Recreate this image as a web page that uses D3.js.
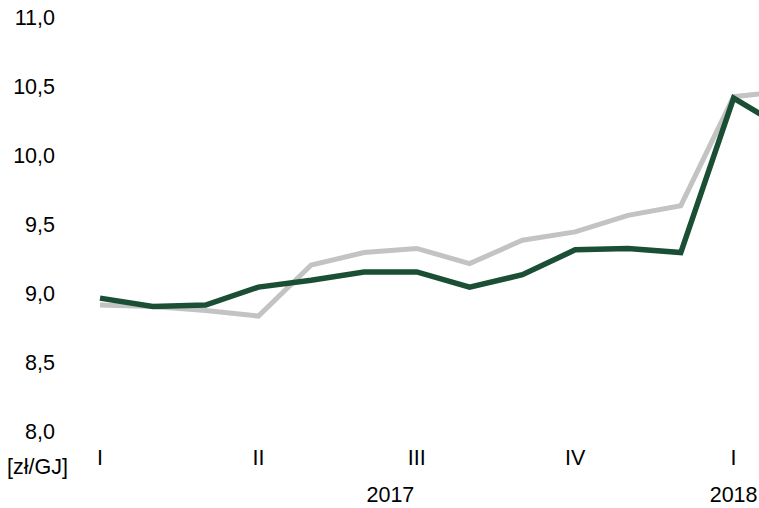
<!DOCTYPE html>
<html lang="pl">
<head>
    <meta charset="UTF-8">
    <script src="https://d3js.org/d3.v7.min.js"></script>
    <style>
        body { margin: 0; background: #fff; }
        text { font-family: "Liberation Sans", Arial, sans-serif; fill: #000; }
    </style>
</head>
<body>
    <script>
        // monthly values, Jan 2017 .. Feb 2018
        var greenVals = [8.97, 8.91, 8.92, 9.05, 9.10, 9.16, 9.16, 9.05, 9.14, 9.32, 9.33, 9.30, 10.42, 10.19];
        var grayVals  = [8.92, 8.91, 8.88, 8.84, 9.21, 9.30, 9.33, 9.22, 9.39, 9.45, 9.57, 9.64, 10.43, 10.47];
        var yTicks = [8.0, 8.5, 9.0, 9.5, 10.0, 10.5, 11.0];
        var quarterLabels = [{i: 0, t: "I"}, {i: 3, t: "II"}, {i: 6, t: "III"}, {i: 9, t: "IV"}, {i: 12, t: "I"}];
        var yearLabels = [{i: 5.5, t: "2017"}, {i: 12, t: "2018"}];
        var unitLabel = "[zł/GJ]";

        var svgwidth = 759, svgheight = 508;
        var fs = "21.5px";
        var svg = d3.select("body").append("svg")
            .attr("width", svgwidth)
            .attr("height", svgheight)
            .style("display", "block");

        var x = d3.scaleLinear().domain([0, 12]).range([100, 733.6]);
        var y = d3.scaleLinear().domain([8, 11]).range([432, 18]);

        // y axis labels only
        var yAxis = svg.append("g")
            .attr("transform", "translate(55,0)")
            .call(d3.axisLeft(y).tickValues(yTicks).tickSize(0).tickPadding(0)
                .tickFormat(d => d3.format(".1f")(d).replace(".", ",")));
        yAxis.select(".domain").remove();
        yAxis.selectAll("text").attr("font-size", fs).attr("font-family", "Liberation Sans, Arial, sans-serif").attr("fill", "#000");

        svg.append("text")
            .attr("x", 7).attr("y", 474)
            .attr("font-size", fs)
            .text(unitLabel);

        svg.selectAll(".q").data(quarterLabels).enter().append("text")
            .attr("class", "q")
            .attr("x", d => x(d.i)).attr("y", 465)
            .attr("text-anchor", "middle")
            .attr("font-size", fs)
            .text(d => d.t);

        svg.selectAll(".yr").data(yearLabels).enter().append("text")
            .attr("class", "yr")
            .attr("x", d => x(d.i)).attr("y", 502)
            .attr("text-anchor", "middle")
            .attr("font-size", fs)
            .text(d => d.t);

        var line = d3.line().x((d, i) => x(i)).y(d => y(d));

        svg.append("path").datum(grayVals)
            .attr("d", line)
            .attr("fill", "none")
            .attr("stroke", "#c3c3c3")
            .attr("stroke-width", 5)
            .attr("stroke-linejoin", "miter");

        svg.append("path").datum(greenVals)
            .attr("d", line)
            .attr("fill", "none")
            .attr("stroke", "#1b4f35")
            .attr("stroke-width", 5.5)
            .attr("stroke-linejoin", "miter");
    </script>
</body>
</html>
